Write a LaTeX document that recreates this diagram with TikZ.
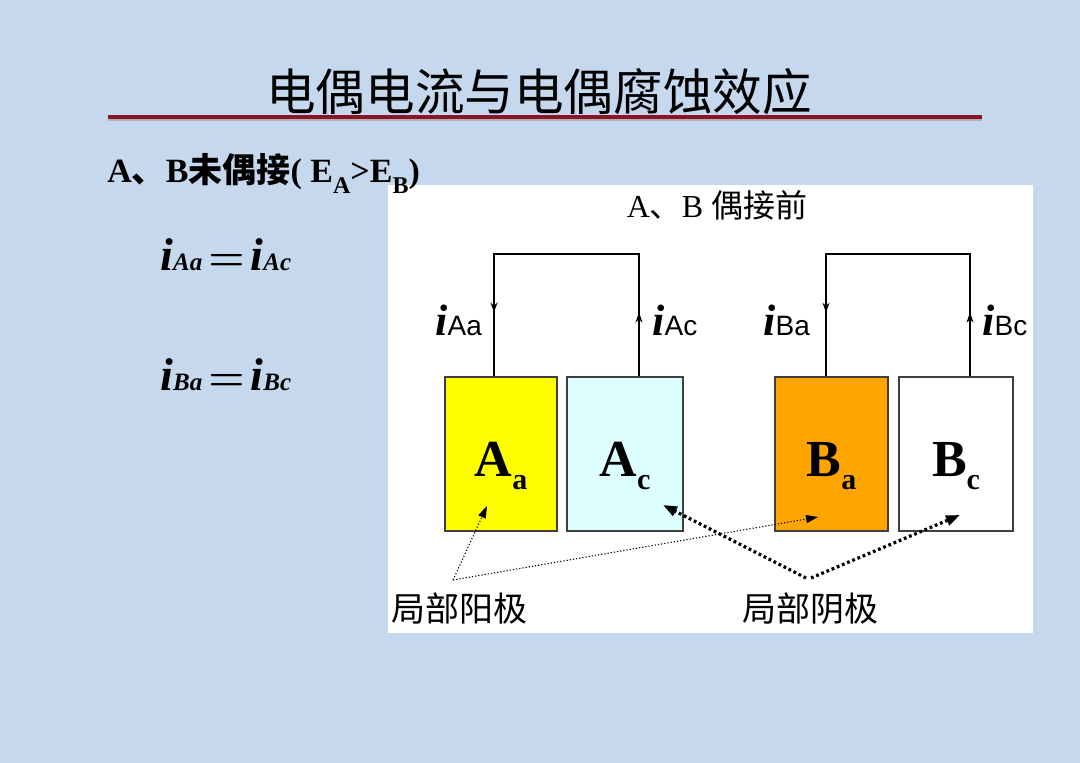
\documentclass[tikz,border=0pt]{standalone}
\usepackage{fontspec}
\usepackage{amsmath}
\setmainfont{Liberation Serif}
\newfontfamily\cjk{Noto Sans CJK SC}
\newfontfamily\arial{Liberation Sans}
\usetikzlibrary{arrows.meta,decorations.markings}
\definecolor{bgblue}{RGB}{198,216,238}
\definecolor{titlered}{RGB}{140,20,40}
\definecolor{boxyellow}{RGB}{255,255,0}
\definecolor{boxcyan}{RGB}{221,255,255}
\definecolor{boxorange}{RGB}{255,165,0}
\tikzset{
  elec/.style={draw=black!75,line width=0.6pt,minimum height=77pt,inner sep=0pt},
  elabel/.style={inner sep=0pt,anchor=base,font=\fontsize{26}{28}\selectfont\bfseries},
  wire/.style={line width=0.55pt,postaction={decorate},
    decoration={markings,
      mark=at position 0.164 with {\arrow{Stealth[length=5pt,width=3.5pt]}},
      mark=at position 0.836 with {\arrow{Stealth[length=5pt,width=3.5pt]}}}},
  thinarrow/.style={line width=0.55pt,dash pattern=on 0.6pt off 1pt,-{Triangle[length=6pt,width=4pt]}},
  thickarrow/.style={line width=1.6pt,dash pattern=on 1.4pt off 1.4pt,-{Triangle[length=7pt,width=5pt]}},
  curlabel/.style={inner sep=0pt,anchor=base west},
  cjklabel/.style={inner sep=0pt,font=\cjk\fontsize{17}{19}\selectfont},
}
\newcommand{\cur}[1]{{\fontsize{22}{24}\selectfont\bfseries\itshape i}{\arial\fontsize{14}{16}\selectfont #1}}
\newcommand{\eqi}[1]{{\fontsize{23}{25}\selectfont\bfseries\itshape i}{\fontsize{12.5}{14}\selectfont\bfseries\itshape #1}}
\newcommand{\eqs}{\hspace{3pt}{\fontsize{21}{22}\selectfont$\boldsymbol{=}$}\hspace{3pt}}
\newcommand{\elab}[2]{#1\raisebox{-0.25em}{\fontsize{15}{16}\selectfont #2}}
\begin{document}
\begin{tikzpicture}[x=0.5pt,y=-0.5pt]
\useasboundingbox (0,0) rectangle (1080,763);
\fill[bgblue] (0,0) rectangle (1080,763);
% panel
\fill[white] (388,185) rectangle (1033,633);
% title
\node[inner sep=0pt,font=\cjk\fontsize{24.8}{28}\selectfont] (title) at (539,92) {电偶电流与电偶腐蚀效应};
\coordinate (rl) at (108,117);
\coordinate (rr) at (982,117);
\draw[black!30,line width=0.7pt] ([yshift=-1.6pt]rl) -- ([yshift=-1.6pt]rr);
\draw[titlered,line width=1.6pt] (rl) -- (rr);
% subtitle
\node[inner sep=0pt,anchor=base west,font=\fontsize{17}{19}\selectfont\bfseries] (sub) at (107,183)
  {A{\cjk 、}B{\cjk 未偶接}( E\raisebox{-0.3em}{\fontsize{12}{13}\selectfont A}>E\raisebox{-0.3em}{\fontsize{12}{13}\selectfont B})};
% equations
\node[inner sep=0pt,anchor=base west] (eq1) at (160,271) {\eqi{Aa}\eqs\eqi{Ac}};
\node[inner sep=0pt,anchor=base west] (eq2) at (160,391) {\eqi{Ba}\eqs\eqi{Bc}};
% panel title
\node[inner sep=0pt,font=\fontsize{16}{18}\selectfont] (ptitle) at (717,205) {A{\cjk 、}B {\cjk 偶接前}};
% electrodes
\node[elec,fill=boxyellow,minimum width=56pt] (Aa) at (501,454) {};
\node[elec,fill=boxcyan,minimum width=58pt] (Ac) at (625,454) {};
\node[elec,fill=boxorange,minimum width=56.5pt] (Ba) at (831.5,454) {};
\node[elec,fill=white,minimum width=57pt] (Bc) at (956,454) {};
\node[elabel] (Aalab) at ([yshift=-11.5pt]Aa.center) {\elab{A}{a}};
\node[elabel] (Aclab) at ([yshift=-11.5pt]Ac.center) {\elab{A}{c}};
\node[elabel] (Balab) at ([yshift=-11.5pt]Ba.center) {\elab{B}{a}};
\node[elabel] (Bclab) at ([yshift=-11.5pt]Bc.center) {\elab{B}{c}};
% wires
\coordinate (tAa) at (494,254);
\coordinate (tAc) at (639,254);
\coordinate (tBa) at (826,254);
\coordinate (tBc) at (970,254);
\draw[wire] (Ac.north -| tAc) -- (tAc) -- (tAa) -- (Aa.north -| tAa);
\draw[wire] (Bc.north -| tBc) -- (tBc) -- (tBa) -- (Ba.north -| tBa);
% current labels
\node[curlabel] (lAa) at (435,336) {\cur{Aa}};
\node[curlabel] (lAc) at (652,336) {\cur{Ac}};
\node[curlabel] (lBa) at (763,336) {\cur{Ba}};
\node[curlabel] (lBc) at (982,336) {\cur{Bc}};
% local anode / cathode
\node[cjklabel] (anode) at (459,609) {局部阳极};
\node[cjklabel] (cathode) at (810,609) {局部阴极};
\coordinate (an0) at (453,580);
\coordinate (ca1) at (806,578);
\coordinate (ca2) at (811,578);
\coordinate (pAa) at (487,506);
\coordinate (pBa) at (818,517);
\coordinate (pAc) at (663,505);
\coordinate (pBc) at (960,515);
\draw[thinarrow] (an0) -- (pAa);
\draw[thinarrow] (an0) -- (pBa);
\draw[thickarrow] (ca1) -- (pAc);
\draw[thickarrow] (ca2) -- (pBc);
\end{tikzpicture}
\end{document}
